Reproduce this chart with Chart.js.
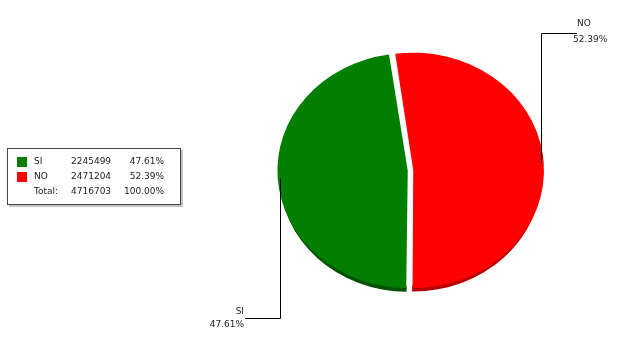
<!DOCTYPE html>
<html>
<head>
<meta charset="utf-8">
<script src="https://cdn.jsdelivr.net/npm/chart.js@4/dist/chart.umd.min.js"></script>
<style>
  body { margin: 0; background: #fff; }
  canvas { display: block; }
</style>
</head>
<body>
<canvas id="pie-chart" width="620" height="349"></canvas>
<script>
const categories = ['SI', 'NO'];
const votes = [2245499, 2471204];
const sliceColors = ['#007f00', '#ff0000'];
const rimColors = ['#005200', '#b80000'];

const total = votes.reduce((a, b) => a + b, 0);
const pct = v => (v / total * 100).toFixed(2) + '%';

const FONT = '9px "DejaVu Sans", Verdana, sans-serif';
const TILT = 0.9;     // squash the pie vertically
const DEPTH = 6;      // thickness of the rim

// chart.js draws arcs shifted by offset / 4
function sliceGeom(chart, el) {
    const p = el.getProps(['x', 'y', 'startAngle', 'endAngle', 'outerRadius']);
    const off = (el.options.offset || 0) / 4;
    const mid = (p.startAngle + p.endAngle) / 2;
    return {
        x: p.x + off * Math.cos(mid),
        y: p.y + off * Math.sin(mid),
        cy: p.y, r: p.outerRadius, s: p.startAngle, e: p.endAngle, mid
    };
}

const tiltPlugin = {
    id: 'tilt',
    beforeDatasetsDraw(chart) {
        const ctx = chart.ctx;
        const meta = chart.getDatasetMeta(0);
        const cy = meta.data[0].y;
        ctx.save();
        ctx.translate(0, cy);
        ctx.scale(1, TILT);
        ctx.translate(0, -cy);
        // rim band, only on the front (lower) half of each slice
        meta.data.forEach((el, i) => {
            const g = sliceGeom(chart, el);
            const d = DEPTH / TILT;
            ctx.fillStyle = rimColors[i];
            for (let k = -1; k <= 2; k++) {
                const lo = Math.max(g.s, 2 * Math.PI * k);
                const hi = Math.min(g.e, Math.PI + 2 * Math.PI * k);
                if (hi <= lo) continue;
                ctx.beginPath();
                ctx.arc(g.x, g.y + d, g.r, lo, hi);
                ctx.arc(g.x, g.y, g.r, hi, lo, true);
                ctx.closePath();
                ctx.fill();
            }
        });
    },
    afterDatasetsDraw(chart) {
        chart.ctx.restore();
    }
};

const calloutPlugin = {
    id: 'callouts',
    afterDraw(chart) {
        const ctx = chart.ctx;
        const meta = chart.getDatasetMeta(0);
        ctx.save();
        ctx.strokeStyle = '#000';
        ctx.lineWidth = 1;
        ctx.font = FONT;
        ctx.fillStyle = '#222';
        ctx.textBaseline = 'middle';
        meta.data.forEach((el, i) => {
            const g = sliceGeom(chart, el);
            const px = Math.round(g.x + g.r * Math.cos(g.mid)) + 0.5;
            const py = g.cy + (g.y - g.cy + g.r * Math.sin(g.mid)) * TILT;
            const right = Math.cos(g.mid) > 0;
            ctx.beginPath();
            if (right) {
                ctx.moveTo(px, py);
                ctx.lineTo(px, 33.5);
                ctx.lineTo(577, 33.5);
                ctx.stroke();
                ctx.textAlign = 'left';
                ctx.fillText(categories[i], 577, 24);
                ctx.fillText(pct(votes[i]), 573, 40);
            } else {
                ctx.moveTo(px, py);
                ctx.lineTo(px, 318.5);
                ctx.lineTo(245, 318.5);
                ctx.stroke();
                ctx.textAlign = 'right';
                ctx.fillText(categories[i], 244, 312);
                ctx.fillText(pct(votes[i]), 244, 325);
            }
        });
        ctx.restore();
    }
};

const legendPlugin = {
    id: 'tableLegend',
    afterDraw(chart) {
        const ctx = chart.ctx;
        ctx.save();
        // shadow + box
        ctx.fillStyle = '#c4c4c4';
        ctx.fillRect(9, 150, 174, 57);
        ctx.fillStyle = '#fff';
        ctx.fillRect(7, 148, 174, 57);
        ctx.strokeStyle = '#444';
        ctx.lineWidth = 1;
        ctx.strokeRect(7.5, 148.5, 173, 56);

        ctx.font = FONT;
        ctx.textBaseline = 'middle';
        const rows = categories.map((c, i) => ({
            color: sliceColors[i], name: c, value: votes[i], share: pct(votes[i])
        }));
        rows.push({color: null, name: 'Total:', value: total, share: '100.00%'});
        rows.forEach((row, i) => {
            const y = 162 + i * 15;
            if (row.color) {
                ctx.fillStyle = row.color;
                ctx.fillRect(17, y - 5, 10, 10);
            }
            ctx.fillStyle = '#222';
            ctx.textAlign = 'left';
            ctx.fillText(row.name, 34, y);
            ctx.fillText(String(row.value), 71, y);
            ctx.textAlign = 'right';
            ctx.fillText(row.share, 164, y);
        });
        ctx.restore();
    }
};

new Chart(document.getElementById('pie-chart'), {
    type: 'pie',
    data: {
        labels: categories,
        datasets: [{
            data: votes,
            backgroundColor: sliceColors,
            borderWidth: 0,
            offset: 11
        }]
    },
    options: {
        responsive: false,
        animation: false,
        rotation: 180.5,
        layout: {
            padding: {left: 277, right: 76, top: 37, bottom: 45}
        },
        plugins: {
            legend: {display: false},
            tooltip: {enabled: false}
        }
    },
    plugins: [tiltPlugin, calloutPlugin, legendPlugin]
});
</script>
</body>
</html>
